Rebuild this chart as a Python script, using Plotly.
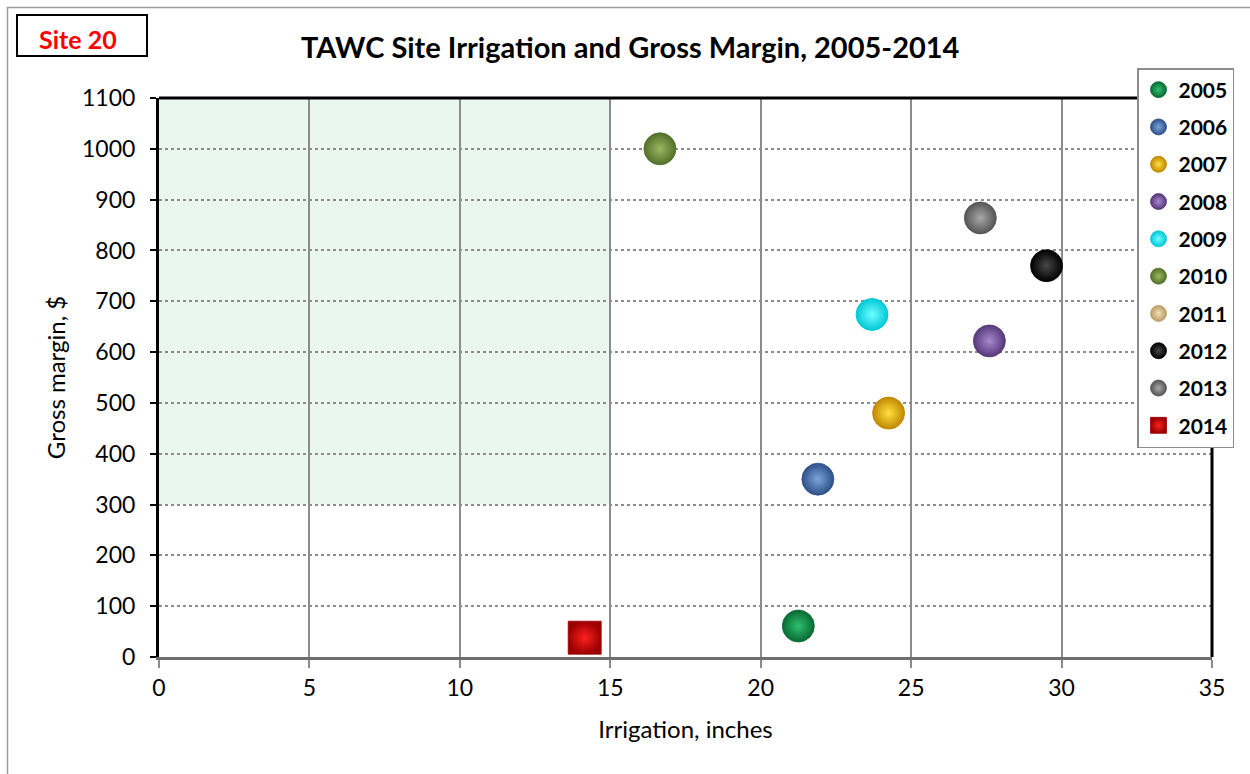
import plotly.graph_objects as go

# Site 20 irrigation (inches) and gross margin ($) by year
years = ["2005", "2006", "2007", "2008", "2009", "2010", "2011", "2012", "2013", "2014"]
irrigation = [21.25, 21.9, 24.25, 27.6, 23.7, 16.65, None, 29.5, 27.3, 14.15]
gross_margin = [61, 350, 480, 622, 674, 1000, None, 770, 864, 38]

# marker highlight (centre) and shade (edge) colours per year
face_colors = ["#2CC070", "#7AA6DC", "#FFE040", "#A888CE", "#70FFFF",
               "#9CB860", "#F2E0B4", "#484848", "#A8A8A8", "#FF2020"]
rim_colors = ["#0A6A32", "#2E5088", "#C08800", "#55397A", "#00C8D8",
              "#52702A", "#B89C64", "#000000", "#555555", "#9A0000"]
symbols = ["circle"] * 9 + ["square"]
sizes = [32] * 9 + [33]

FONT = "Lato"

fig = go.Figure()

for yr, xv, yv, fc, rc, sym, sz in zip(years, irrigation, gross_margin,
                                       face_colors, rim_colors, symbols, sizes):
    fig.add_trace(go.Scatter(
        x=[xv], y=[yv], name=yr, mode="markers", legendgroup=yr,
        marker=dict(symbol=sym, size=sz, color=rc,
                    gradient=dict(type="radial", color=fc),
                    line=dict(width=0.8, color=rc)),
    ))

# plot area left/right = 159/1212 px, top/bottom = 98/657 px
L, R, T, B = 159, 1212, 98, 657
W, H = 1250, 774


def px_x(p):
    return (p - L) / (R - L)


def px_y(p):
    return (B - p) / (B - T)


shapes = [
    # target zone: under 15 inches, margin above $300
    dict(type="rect", xref="x", yref="y", x0=0, x1=15, y0=300, y1=1100,
         fillcolor="#EAF7EE", line=dict(width=0), layer="below"),
    # top and right frame of the plot area
    dict(type="line", xref="paper", yref="paper", x0=0, x1=1, y0=1, y1=1,
         line=dict(color="black", width=3)),
    dict(type="line", xref="paper", yref="paper", x0=1, x1=1, y0=0, y1=1,
         line=dict(color="black", width=3)),
    # outer chart border
    dict(type="rect", xref="paper", yref="paper",
         x0=px_x(7.5), x1=px_x(W + 5), y0=px_y(7.5), y1=px_y(H + 5),
         line=dict(color="#9A9A9A", width=1.5), fillcolor="rgba(0,0,0,0)"),
    # site label box
    dict(type="rect", xref="paper", yref="paper",
         x0=px_x(17), x1=px_x(147), y0=px_y(15), y1=px_y(56),
         line=dict(color="black", width=2), fillcolor="white"),
]

annotations = [
    dict(text="<b>Site 20</b>", xref="paper", yref="paper",
         x=px_x(78), y=px_y(39), xanchor="center", yanchor="middle",
         showarrow=False, font=dict(family=FONT, size=25, color="#FF0000")),
    dict(text="<b>TAWC Site Irrigation and Gross Margin, 2005-2014</b>",
         xref="paper", yref="paper", x=px_x(630), y=px_y(47),
         xanchor="center", yanchor="middle", showarrow=False,
         font=dict(family=FONT, size=29, color="black")),
]

fig.update_layout(
    width=W, height=H,
    margin=dict(l=L, r=W - R, t=T, b=H - B),
    paper_bgcolor="white", plot_bgcolor="white",
    font=dict(family=FONT, size=23, color="black"),
    shapes=shapes, annotations=annotations,
    showlegend=True,
    legend=dict(
        x=px_x(1137), y=px_y(68), xanchor="left", yanchor="top",
        bgcolor="white", bordercolor="#8C8C8C", borderwidth=1.5,
        font=dict(family=FONT, size=21, color="black", weight="bold"),
        traceorder="grouped", tracegroupgap=7,
        itemsizing="trace", itemwidth=30, maxheight=1000,
    ),
    xaxis=dict(
        range=[0, 35], dtick=5, tick0=0,
        showgrid=True, gridcolor="#8C8C8C", gridwidth=2,
        showline=True, linecolor="#6E6E6E", linewidth=3,
        ticks="outside", ticklen=8, tickcolor="#8C8C8C", tickwidth=2,
        zeroline=False, mirror=False,
        title=dict(text="Irrigation, inches", standoff=22,
                   font=dict(family=FONT, size=24)),
        tickfont=dict(family=FONT, size=23),
    ),
    yaxis=dict(
        range=[0, 1100], dtick=100, tick0=0,
        showgrid=True, gridcolor="#8C8C8C", gridwidth=1.5, griddash="dot",
        showline=True, linecolor="black", linewidth=3,
        ticks="outside", ticklen=6, tickcolor="black", tickwidth=2,
        ticklabelstandoff=10,
        zeroline=False,
        title=dict(text="Gross margin, $", standoff=10,
                   font=dict(family=FONT, size=24)),
        tickfont=dict(family=FONT, size=23),
    ),
)

fig.write_html("out.html")
